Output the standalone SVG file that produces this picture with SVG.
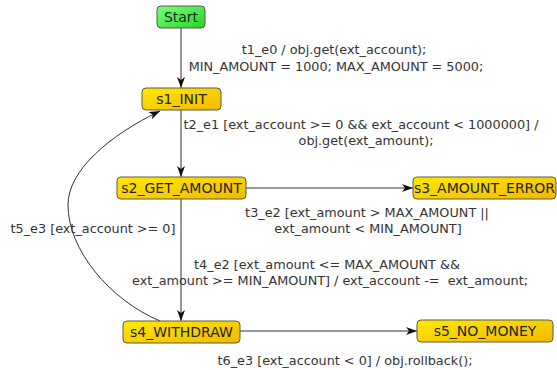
<svg xmlns="http://www.w3.org/2000/svg" width="557" height="370" viewBox="0 0 557 370">
  <style>
    .st rect { stroke: #5a5a4a; stroke-width: 1; }
    .st text { font-family: "DejaVu Sans", "Liberation Sans", sans-serif; font-size: 14px; fill: #222; text-anchor: middle; }
    .lbl { font-family: "DejaVu Sans", "Liberation Sans", sans-serif; font-size: 12.8px; fill: #333; text-anchor: middle; white-space: pre; }
    .edge { fill: none; stroke: #333; stroke-width: 1; }
  </style>
  <defs>
    <linearGradient id="gold" x1="0" y1="0" x2="1" y2="1">
      <stop offset="0" stop-color="#ffea00"/>
      <stop offset="1" stop-color="#f2b800"/>
    </linearGradient>
    <linearGradient id="green" x1="0" y1="0" x2="1" y2="1">
      <stop offset="0" stop-color="#7cff7c"/>
      <stop offset="1" stop-color="#22d622"/>
    </linearGradient>
    <marker id="arrow" viewBox="0 0 11 8" refX="11" refY="4" markerWidth="11" markerHeight="8" markerUnits="userSpaceOnUse" orient="auto">
      <path d="M0,0 L11,4 L0,8 L3,4 z" fill="#111"/>
    </marker>
  </defs>

  <rect width="557" height="370" fill="#ffffff"/>

  <!-- connectors -->
  <g id="edges">
    <path class="edge" d="M181,28 L181,88" marker-end="url(#arrow)"/>
    <path class="edge" d="M181,110 L181,177" marker-end="url(#arrow)"/>
    <path class="edge" d="M181,199 L181,321" marker-end="url(#arrow)"/>
    <path class="edge" d="M246,188 L413,188" marker-end="url(#arrow)"/>
    <path class="edge" d="M240,331 L417,331" marker-end="url(#arrow)"/>
    <path class="edge" d="M160,321 C110,300 68,250 68,205 C68,170 110,135 160,111" marker-end="url(#arrow)"/>

    <text class="lbl" x="334" y="54">t1_e0 / obj.get(ext_account);</text>
    <text class="lbl" x="336" y="71">MIN_AMOUNT = 1000; MAX_AMOUNT = 5000;</text>
    <text class="lbl" x="361" y="129">t2_e1 [ext_account &gt;= 0 &amp;&amp; ext_account &lt; 1000000] /</text>
    <text class="lbl" x="366" y="145">obj.get(ext_amount);</text>
    <text class="lbl" x="367" y="217">t3_e2 [ext_amount &gt; MAX_AMOUNT ||</text>
    <text class="lbl" x="368" y="233">ext_amount &lt; MIN_AMOUNT]</text>
    <text class="lbl" x="93" y="233">t5_e3 [ext_account &gt;= 0]</text>
    <text class="lbl" x="327" y="269">t4_e2 [ext_amount &lt;= MAX_AMOUNT &amp;&amp;</text>
    <text class="lbl" x="330" y="285">ext_amount &gt;= MIN_AMOUNT] / ext_account -=  ext_amount;</text>
    <text class="lbl" x="345" y="365">t6_e3 [ext_account &lt; 0] / obj.rollback();</text>
  </g>

  <!-- states -->
  <g id="Start" class="st">
    <rect x="157" y="6" width="48" height="22" rx="4" fill="url(#green)"/>
    <text x="181" y="22">Start</text>
  </g>
  <g id="s1_INIT" class="st">
    <rect x="142" y="88" width="79" height="22" rx="4" fill="url(#gold)"/>
    <text x="181.5" y="104">s1_INIT</text>
  </g>
  <g id="s2_GET_AMOUNT" class="st">
    <rect x="117" y="177" width="129" height="22" rx="4" fill="url(#gold)"/>
    <text x="181.5" y="193">s2_GET_AMOUNT</text>
  </g>
  <g id="s3_AMOUNT_ERROR" class="st">
    <rect x="413" y="177" width="143" height="22" rx="4" fill="url(#gold)"/>
    <text x="484.5" y="193">s3_AMOUNT_ERROR</text>
  </g>
  <g id="s4_WITHDRAW" class="st">
    <rect x="123" y="321" width="117" height="22" rx="4" fill="url(#gold)"/>
    <text x="181.5" y="337">s4_WITHDRAW</text>
  </g>
  <g id="s5_NO_MONEY" class="st">
    <rect x="417" y="320" width="136" height="22" rx="4" fill="url(#gold)"/>
    <text x="485" y="336">s5_NO_MONEY</text>
  </g>
</svg>
